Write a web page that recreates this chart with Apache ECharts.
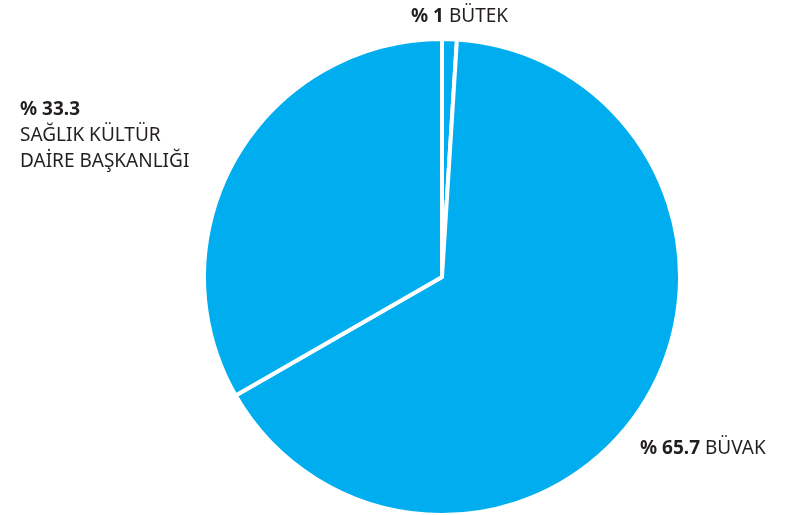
<!DOCTYPE html>
<html><head><meta charset="utf-8">
<script src="https://cdn.jsdelivr.net/npm/echarts@6/dist/echarts.min.js"></script>
<style>html,body{margin:0;padding:0;background:#fff}#c{width:800px;height:515px}</style>
</head><body><div id="c"></div>
<script>
const names = ['BÜTEK', 'BÜVAK', 'SAĞLIK KÜLTÜR\nDAİRE BAŞKANLIĞI'];
const values = [1, 65.7, 33.3];
const labelPos = [
  {x: 411, y: 17, align: 'left', verticalAlign: 'middle'},
  {x: 640, y: 449, align: 'left', verticalAlign: 'middle'},
  {x: 20, y: 136, align: 'left', verticalAlign: 'middle'}
];
const chart = echarts.init(document.getElementById('c'));
const FONT = '"Noto Sans", sans-serif';
const FS = 19;
chart.setOption({
  animation: false,
  series: [{
    type: 'pie',
    center: [442, 277],
    radius: [0, 238],
    startAngle: 90,
    clockwise: true,
    itemStyle: {color: '#00AEEF', borderColor: '#fff', borderWidth: 4},
    label: {
      show: true,
      position: 'outside',
      overflow: 'none',
      fontFamily: FONT,
      fontSize: FS,
      color: '#231f20',
      lineHeight: 26,
      formatter: function (p) {
        const isMulti = p.name.indexOf('\n') >= 0;
        const lines = p.name.split('\n').map(s => '{n|' + s + '}');
        const pct = '{b|% ' + p.value + '}';
        return isMulti ? pct + '\n' + lines.join('\n') : pct + ' ' + lines.join('');
      },
      rich: {
        b: {fontWeight: 'bold', fontFamily: FONT, fontSize: FS, color: '#231f20', lineHeight: 26},
        n: {fontFamily: FONT, fontSize: FS, color: '#231f20', lineHeight: 26}
      }
    },
    labelLine: {show: false},
    labelLayout: function (p) { return labelPos[p.dataIndex]; },
    emphasis: {disabled: true},
    data: names.map((n, i) => ({name: n, value: values[i]}))
  }]
});
</script></body></html>
